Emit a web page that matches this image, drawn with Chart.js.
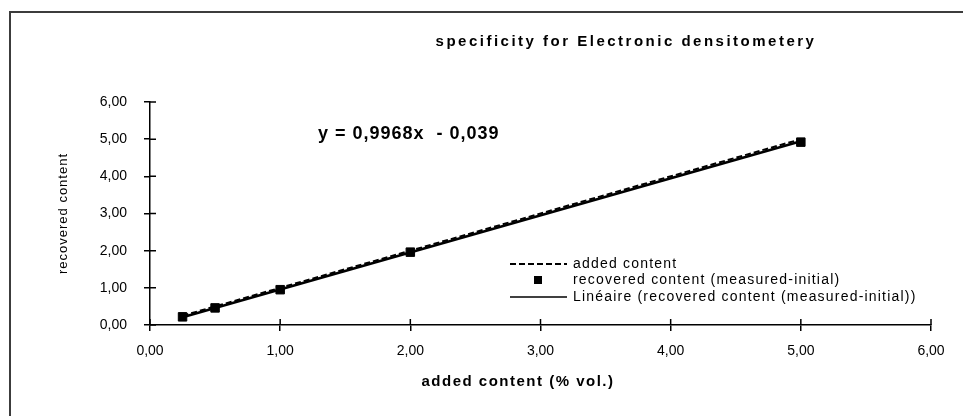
<!DOCTYPE html>
<html>
<head>
<meta charset="utf-8">
<script src="https://cdn.jsdelivr.net/npm/chart.js@4/dist/chart.umd.min.js"></script>
<style>
  html, body { margin: 0; padding: 0; background: #fff; }
  #wrap { position: relative; width: 963px; height: 416px; overflow: hidden; }
  #frame { position: absolute; left: 9px; top: 11px; width: 980px; height: 440px; border: 2px solid #3c3c3c; }
  canvas { position: absolute; left: 0; top: 0; }
</style>
</head>
<body>
<div id="wrap">
  <div id="frame"></div>
  <canvas id="myChart" width="963" height="416"></canvas>
</div>
<script>
const addedX = [0.25, 0.5, 1, 2, 5];
const addedY = [0.25, 0.5, 1, 2, 5];
const recoveredY = [0.22, 0.46, 0.95, 1.96, 4.92];
const trendX = [0.25, 5];
const trendY = [0.21, 4.945];
const tickLabels = ['0,00', '1,00', '2,00', '3,00', '4,00', '5,00', '6,00'];

const legendItems = ['added content', 'recovered content (measured-initial)', 'Linéaire (recovered content (measured-initial))'];

const FONT = '"Liberation Sans", Arial, sans-serif';

function pairs(xs, ys) {
    return xs.map(function (v, i) { return { x: v, y: ys[i] }; });
}

const textPlugin = {
    id: 'textPlugin',
    afterDraw: function (chart) {
        const ctx = chart.ctx;
        const xs = chart.scales.x;
        const ys = chart.scales.y;
        const area = chart.chartArea;

        ctx.save();
        // tick marks crossing into the plot
        ctx.strokeStyle = '#000';
        ctx.lineWidth = 1.5;
        ctx.beginPath();
        ys.ticks.forEach(function (t) {
            const p = ys.getPixelForValue(t.value);
            ctx.moveTo(area.left, p);
            ctx.lineTo(area.left + 6, p);
        });
        xs.ticks.forEach(function (t) {
            const p = xs.getPixelForValue(t.value);
            ctx.moveTo(p, area.bottom);
            ctx.lineTo(p, area.bottom - 6);
        });
        ctx.stroke();

        ctx.fillStyle = '#000';
        ctx.textBaseline = 'middle';

        // title
        ctx.font = 'bold 15px ' + FONT;
        ctx.letterSpacing = '2.5px';
        ctx.textAlign = 'center';
        ctx.fillText('specificity for Electronic densitometery', 626, 42);

        // equation
        ctx.font = 'bold 18px ' + FONT;
        ctx.letterSpacing = '1px';
        ctx.textAlign = 'left';
        ctx.fillText('y = 0,9968x  - 0,039', 318, 134);

        // axis titles
        ctx.font = 'bold 15px ' + FONT;
        ctx.letterSpacing = '1.5px';
        ctx.textAlign = 'center';
        ctx.fillText('added content (% vol.)', 518, 382);

        ctx.save();
        ctx.translate(63, (area.top + area.bottom) / 2);
        ctx.rotate(-Math.PI / 2);
        ctx.font = '13px ' + FONT;
        ctx.letterSpacing = '1px';
        ctx.fillText('recovered content', 0, 0);
        ctx.restore();

        // legend
        const rows = [264, 280, 297];
        ctx.font = '14px ' + FONT;
        ctx.letterSpacing = '1.2px';
        ctx.textAlign = 'left';
        legendItems.forEach(function (txt, i) {
            ctx.fillText(txt, 573, rows[i]);
        });
        ctx.lineWidth = 2;
        ctx.setLineDash([6, 3]);
        ctx.beginPath();
        ctx.moveTo(510, rows[0]);
        ctx.lineTo(567, rows[0]);
        ctx.stroke();
        ctx.setLineDash([]);
        ctx.fillRect(534, rows[1] - 4, 8, 8);
        ctx.lineWidth = 1.5;
        ctx.beginPath();
        ctx.moveTo(510, rows[2]);
        ctx.lineTo(567, rows[2]);
        ctx.stroke();
        ctx.restore();
    }
};

const config = {
    type: 'scatter',
    data: {
        datasets: [{
            label: legendItems[1],
            data: pairs(addedX, recoveredY),
            pointStyle: 'rect',
            pointRadius: 6,
            backgroundColor: '#000',
            borderColor: '#000',
            showLine: false,
            order: 0
        }, {
            label: legendItems[2],
            data: pairs(trendX, trendY),
            showLine: true,
            borderColor: '#000',
            borderWidth: 2.5,
            pointRadius: 0,
            order: 1
        }, {
            label: legendItems[0],
            data: pairs(addedX, addedY),
            showLine: true,
            borderColor: '#000',
            borderWidth: 2,
            borderDash: [6, 3],
            pointRadius: 0,
            order: 2
        }]
    },
    options: {
        responsive: false,
        animation: false,
        layout: {
            padding: { left: 0, right: 32, top: 102, bottom: 0 }
        },
        plugins: {
            legend: { display: false },
            tooltip: { enabled: false }
        },
        scales: {
            x: {
                type: 'linear',
                min: 0,
                max: 6,
                afterFit: function (scale) { scale.height = 91; },
                ticks: {
                    stepSize: 1,
                    padding: 12,
                    color: '#000',
                    font: { family: FONT, size: 14 },
                    callback: function (v) { return tickLabels[v]; }
                },
                grid: { drawOnChartArea: false, tickLength: 6, color: '#000', lineWidth: 1.5 },
                border: { color: '#000', width: 1.5 }
            },
            y: {
                min: 0,
                max: 6,
                afterFit: function (scale) { scale.width = 150; },
                ticks: {
                    stepSize: 1,
                    padding: 17,
                    color: '#000',
                    font: { family: FONT, size: 14 },
                    callback: function (v) { return tickLabels[v]; }
                },
                grid: { drawOnChartArea: false, tickLength: 6, color: '#000', lineWidth: 1.5 },
                border: { color: '#000', width: 1.5 }
            }
        }
    },
    plugins: [textPlugin]
};

const myChart = new Chart(
    document.getElementById('myChart'),
    config
);
</script>
</body>
</html>
